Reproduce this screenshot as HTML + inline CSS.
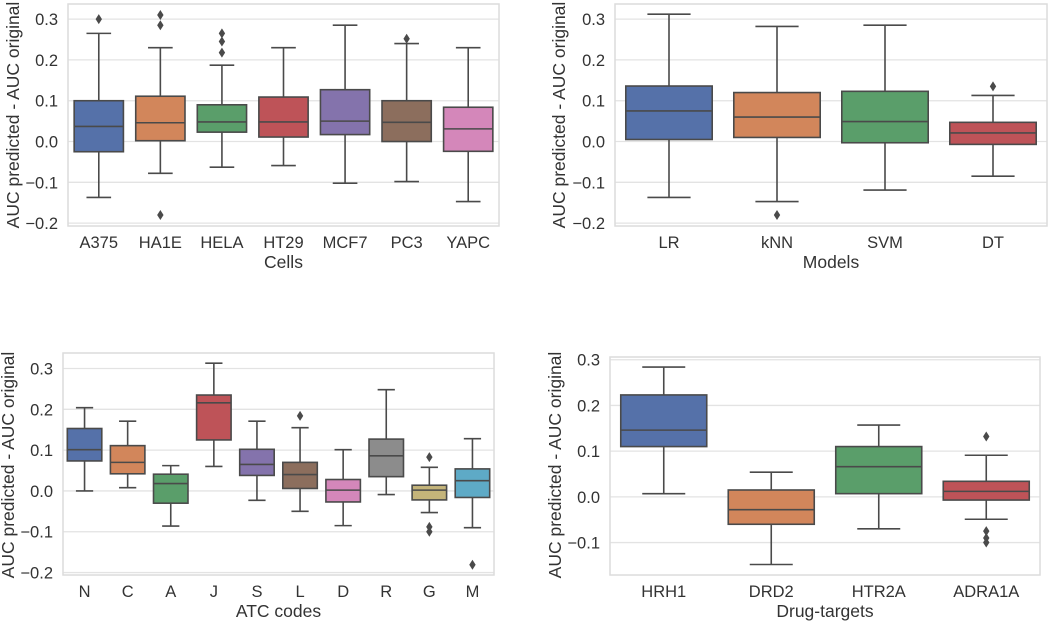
<!DOCTYPE html>
<html><head><meta charset="utf-8"><style>
html,body{margin:0;padding:0;background:#fff;}
svg{display:block;font-family:"Liberation Sans",Arial,sans-serif;}
</style></head><body>
<svg id="chart" width="1050" height="621" viewBox="0 0 1050 621"></svg>
<script>
// ---- Panel 1: Cells ----
const cellsCategories = ["A375","HA1E","HELA","HT29","MCF7","PC3","YAPC"];
const cellsLow   = [-0.137,-0.078,-0.063,-0.059,-0.102,-0.098,-0.147];
const cellsQ1    = [-0.025,0.002,0.023,0.011,0.017,0.000,-0.024];
const cellsMed   = [0.037,0.046,0.048,0.048,0.050,0.047,0.031];
const cellsQ3    = [0.100,0.111,0.090,0.109,0.127,0.100,0.084];
const cellsHigh  = [0.265,0.230,0.187,0.230,0.285,0.240,0.230];
const cellsOut   = [[0.300],[0.310,0.285,-0.180],[0.265,0.245,0.218],[],[],[0.252],[]];
// ---- Panel 2: Models ----
const modelsCategories = ["LR","kNN","SVM","DT"];
const modelsLow  = [-0.137,-0.147,-0.119,-0.085];
const modelsQ1   = [0.005,0.010,-0.003,-0.007];
const modelsMed  = [0.075,0.060,0.049,0.021];
const modelsQ3   = [0.136,0.120,0.123,0.047];
const modelsHigh = [0.312,0.282,0.285,0.113];
const modelsOut  = [[],[-0.180],[],[0.135]];
// ---- Panel 3: ATC codes ----
const atcCategories = ["N","C","A","J","S","L","D","R","G","M"];
const atcLow  = [0.000,0.008,-0.086,0.060,-0.023,-0.050,-0.085,-0.009,-0.053,-0.090];
const atcQ1   = [0.0735,0.042,-0.030,0.125,0.038,0.006,-0.027,0.035,-0.022,-0.016];
const atcMed  = [0.101,0.070,0.018,0.216,0.065,0.040,0.002,0.086,0.002,0.025];
const atcQ3   = [0.153,0.111,0.041,0.235,0.102,0.070,0.028,0.127,0.014,0.054];
const atcHigh = [0.204,0.171,0.062,0.313,0.171,0.155,0.101,0.248,0.058,0.128];
const atcOut  = [[],[],[],[],[],[0.184],[],[],[0.083,-0.088,-0.100],[-0.181]];
// ---- Panel 4: Drug-targets ----
const drugCategories = ["HRH1","DRD2","HTR2A","ADRA1A"];
const drugLow  = [0.007,-0.148,-0.070,-0.049];
const drugQ1   = [0.110,-0.060,0.007,-0.007];
const drugMed  = [0.146,-0.028,0.066,0.012];
const drugQ3   = [0.223,0.015,0.110,0.034];
const drugHigh = [0.284,0.054,0.157,0.091];
const drugOut  = [[],[],[],[0.132,-0.075,-0.090,-0.100]];
// tick labels
const ticksA = [-0.2,-0.1,0.0,0.1,0.2,0.3];
const ticksB = [-0.1,0.0,0.1,0.2,0.3];

const palette10 = ["#5571a9","#d2865b","#5a9e6a","#be5358","#8473ac","#8c6e5d","#d487ba","#8c8c8c","#c4b47a","#5eaac6"];
const NS="http://www.w3.org/2000/svg";
const svg=document.getElementById('chart');
function mk(tag,attrs,parent){const e=document.createElementNS(NS,tag);for(const k in attrs)e.setAttribute(k,attrs[k]);(parent||svg).appendChild(e);return e;}

const panels=[
 {key:"cells",cats:cellsCategories,lo:cellsLow,q1:cellsQ1,med:cellsMed,q3:cellsQ3,hi:cellsHigh,out:cellsOut,ticks:ticksA,
  x0:68,x1:499,y0:4,y1:226,vTop:0.337,vBot:-0.207,xt:"Cells",tickY:248,titleY:268,tickX:58,ytX:19,ytY:115},
 {key:"models",cats:modelsCategories,lo:modelsLow,q1:modelsQ1,med:modelsMed,q3:modelsQ3,hi:modelsHigh,out:modelsOut,ticks:ticksA,
  x0:615,x1:1047,y0:4,y1:226,vTop:0.337,vBot:-0.207,xt:"Models",tickY:248,titleY:268,tickX:605,ytX:565,ytY:115},
 {key:"atc",cats:atcCategories,lo:atcLow,q1:atcQ1,med:atcMed,q3:atcQ3,hi:atcHigh,out:atcOut,ticks:ticksA,
  x0:63,x1:494,y0:353,y1:575,vTop:0.338,vBot:-0.206,xt:"ATC codes",tickY:597,titleY:617,tickX:53,ytX:14,ytY:465},
 {key:"drug",cats:drugCategories,lo:drugLow,q1:drugQ1,med:drugMed,q3:drugQ3,hi:drugHigh,out:drugOut,ticks:ticksB,
  x0:610,x1:1040,y0:357,y1:575,vTop:0.306,vBot:-0.171,xt:"Drug-targets",tickY:597,titleY:617,tickX:600,ytX:561,ytY:465}
];
const LC="#4a4a4a";
panels.forEach(p=>{
  const g=mk('g',{});
  
  
  const ys=v=>p.y0+(p.vTop-v)/(p.vTop-p.vBot)*(p.y1-p.y0);
  const step=(p.x1-p.x0)/p.cats.length;
  const xs=i=>p.x0+step*(i+0.5);
  const bw=step*0.8;
  // grid + ticks
  p.ticks.forEach(t=>{
    const y=ys(t);
    const gl=mk('line',{x1:p.x0,x2:p.x1,y1:y,y2:y,stroke:"#e3e3e3","stroke-width":1.3},g);
    
    
    const tl=mk('text',{x:p.tickX,y:y+6,"text-anchor":"end","font-size":16.5,fill:"#333"},g);
    tl.textContent=(t<0?"\u2212":"")+Math.abs(t).toFixed(1);
    
    
  });
  const fr=mk('rect',{x:p.x0,y:p.y0,width:p.x1-p.x0,height:p.y1-p.y0,fill:"none",stroke:"#dcdcdc","stroke-width":1.5},g);
  
  
  p.cats.forEach((c,i)=>{
    const x=xs(i);
    const bg=mk('g',{},g);
    
    
    mk('line',{x1:x,x2:x,y1:ys(p.hi[i]),y2:ys(p.q3[i]),stroke:LC,"stroke-width":1.6},bg);
    mk('line',{x1:x,x2:x,y1:ys(p.q1[i]),y2:ys(p.lo[i]),stroke:LC,"stroke-width":1.6},bg);
    mk('line',{x1:x-bw/4,x2:x+bw/4,y1:ys(p.hi[i]),y2:ys(p.hi[i]),stroke:LC,"stroke-width":1.6},bg);
    mk('line',{x1:x-bw/4,x2:x+bw/4,y1:ys(p.lo[i]),y2:ys(p.lo[i]),stroke:LC,"stroke-width":1.6},bg);
    mk('rect',{x:x-bw/2,y:ys(p.q3[i]),width:bw,height:ys(p.q1[i])-ys(p.q3[i]),fill:palette10[i],stroke:LC,"stroke-width":1.6},bg);
    mk('line',{x1:x-bw/2,x2:x+bw/2,y1:ys(p.med[i]),y2:ys(p.med[i]),stroke:LC,"stroke-width":1.6},bg);
    p.out[i].forEach(o=>{
      const y=ys(o);
      const d=mk('path',{d:`M${x} ${y-5}L${x+3.2} ${y}L${x} ${y+5}L${x-3.2} ${y}Z`,fill:LC},bg);
      
      
    });
    const xl=mk('text',{x:x,y:p.tickY,"text-anchor":"middle","font-size":16.5,fill:"#333"},g);
    xl.textContent=c;
    
    
  });
  const xt=mk('text',{x:(p.x0+p.x1)/2,y:p.titleY,"text-anchor":"middle","font-size":17.5,fill:"#333"},g);
  xt.textContent=p.xt;
  
  
  const yt=mk('text',{x:0,y:0,"text-anchor":"middle","font-size":17.5,fill:"#333",transform:`translate(${p.ytX},${p.ytY}) rotate(-90)`},g);
  yt.textContent="AUC predicted - AUC original";
  
  
});
</script>
</body></html>
